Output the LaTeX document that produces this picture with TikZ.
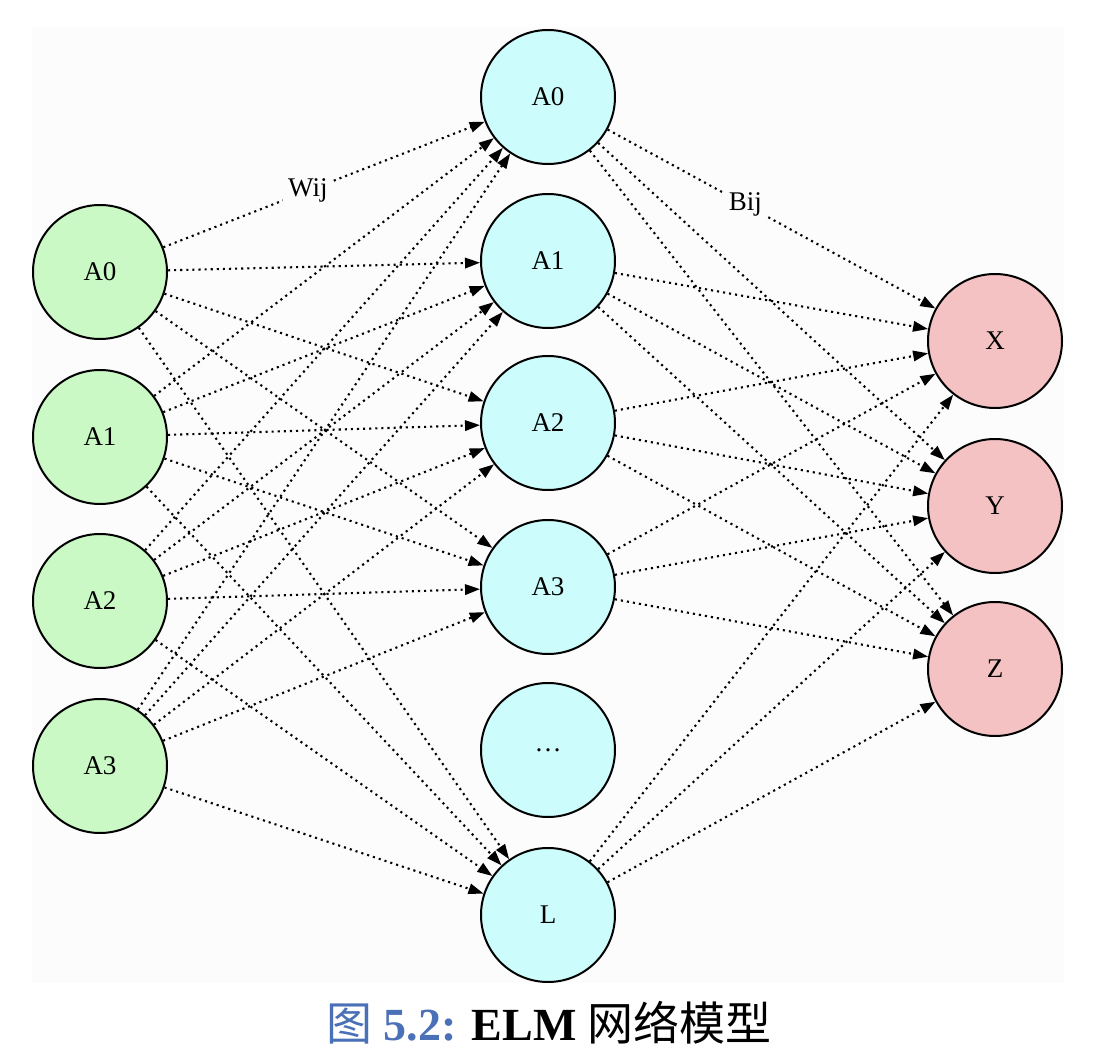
\documentclass[tikz,border=0pt]{standalone}
\usepackage{fontspec}
\setmainfont{Liberation Serif}
\newfontfamily\cjkfont{Noto Sans CJK SC}
\usetikzlibrary{arrows.meta}
\definecolor{inputgreen}{RGB}{203,249,197}
\definecolor{hiddencyan}{RGB}{204,252,252}
\definecolor{outputpink}{RGB}{244,194,194}
\definecolor{canvasgray}{RGB}{252,252,252}
\definecolor{captionblue}{RGB}{74,112,184}

\begin{document}
\begin{tikzpicture}[x=0.5pt,y=-0.5pt,
  neuron/.style={draw=black,line width=1pt,circle,minimum size=67pt,inner sep=0pt,font=\fontsize{13.5}{15}\selectfont},
  weight/.style={black,line width=1.05pt,dash pattern=on 1.05pt off 2pt,-{Triangle[length=7.5pt,width=5.2pt]}},
  wlabel/.style={fill=canvasgray,inner sep=2.5pt,font=\fontsize{13.5}{15}\selectfont}]
\useasboundingbox (0,0) rectangle (1094,1064);
\fill [canvasgray] (32,27) rectangle (1064,983);
% input layer
\node [neuron,fill=inputgreen] (in0) at (100,272) {A0};
\node [neuron,fill=inputgreen] (in1) at (100,437) {A1};
\node [neuron,fill=inputgreen] (in2) at (100,601) {A2};
\node [neuron,fill=inputgreen] (in3) at (100,766) {A3};
% hidden layer
\node [neuron,fill=hiddencyan] (h0) at (548,97) {A0};
\node [neuron,fill=hiddencyan] (h1) at (548,261) {A1};
\node [neuron,fill=hiddencyan] (h2) at (548,423) {A2};
\node [neuron,fill=hiddencyan] (h3) at (548,587) {A3};
\node [neuron,fill=hiddencyan] (hdots) at (548,750) {\ldots};
\node [neuron,fill=hiddencyan] (hL) at (548,915) {L};
% output layer
\node [neuron,fill=outputpink] (outX) at (995,341) {X};
\node [neuron,fill=outputpink] (outY) at (995,506) {Y};
\node [neuron,fill=outputpink] (outZ) at (995,669) {Z};
% input -> hidden
\draw [weight] (in0) -- node [wlabel,pos=0.45] {Wij} (h0);
\draw [weight] (in0) -- (h1);
\draw [weight] (in0) -- (h2);
\draw [weight] (in0) -- (h3);
\draw [weight] (in0) -- (hL);
\draw [weight] (in1) -- (h0);
\draw [weight] (in1) -- (h1);
\draw [weight] (in1) -- (h2);
\draw [weight] (in1) -- (h3);
\draw [weight] (in1) -- (hL);
\draw [weight] (in2) -- (h0);
\draw [weight] (in2) -- (h1);
\draw [weight] (in2) -- (h2);
\draw [weight] (in2) -- (h3);
\draw [weight] (in2) -- (hL);
\draw [weight] (in3) -- (h0);
\draw [weight] (in3) -- (h1);
\draw [weight] (in3) -- (h2);
\draw [weight] (in3) -- (h3);
\draw [weight] (in3) -- (hL);
% hidden -> output
\draw [weight] (h0) -- node [wlabel,pos=0.42] {Bij} (outX);
\draw [weight] (h0) -- (outY);
\draw [weight] (h0) -- (outZ);
\draw [weight] (h1) -- (outX);
\draw [weight] (h1) -- (outY);
\draw [weight] (h1) -- (outZ);
\draw [weight] (h2) -- (outX);
\draw [weight] (h2) -- (outY);
\draw [weight] (h2) -- (outZ);
\draw [weight] (h3) -- (outX);
\draw [weight] (h3) -- (outY);
\draw [weight] (h3) -- (outZ);
\draw [weight] (hL) -- (outX);
\draw [weight] (hL) -- (outY);
\draw [weight] (hL) -- (outZ);
% caption
\node (caption) at (549,1023) {\fontsize{23}{27}\selectfont\textcolor{captionblue}{{\cjkfont 图} \textbf{5.2:}} \textbf{ELM} {\cjkfont 网络模型}};
\end{tikzpicture}
\end{document}
